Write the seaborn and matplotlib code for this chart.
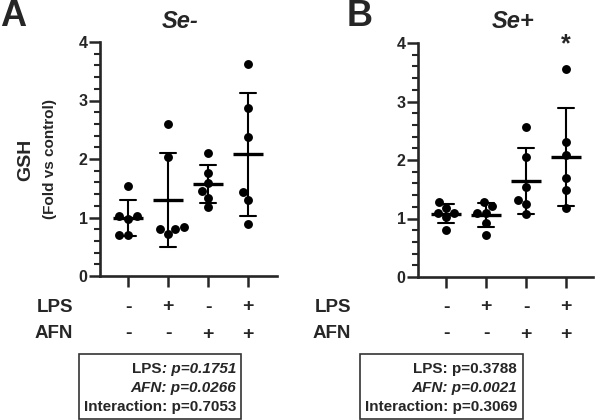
import matplotlib
matplotlib.use("Agg")
import matplotlib.pyplot as plt
import seaborn as sns
import pandas as pd
from matplotlib.ticker import MultipleLocator
from matplotlib.transforms import blended_transform_factory
from matplotlib.patches import Rectangle

sns.set_style("ticks")
plt.rcParams['font.family'] = ['Liberation Sans', 'DejaVu Sans']
plt.rcParams['font.weight'] = 'bold'

# ---- data ----
groups = ["g1", "g2", "g3", "g4"]
lps_signs = ["-", "+", "-", "+"]
afn_signs = ["-", "-", "+", "+"]

se_minus_g1 = [1.54, 1.02, 1.02, 0.98, 0.70, 0.70]
se_minus_g2 = [2.59, 2.04, 0.84, 0.81, 0.80, 0.71]
se_minus_g3 = [2.11, 1.76, 1.59, 1.45, 1.34, 1.18]
se_minus_g4 = [3.62, 2.88, 2.37, 1.43, 1.30, 0.89]

se_plus_g1 = [1.28, 1.18, 1.10, 1.10, 1.02, 0.80]
se_plus_g2 = [1.28, 1.21, 1.10, 1.10, 0.92, 0.72]
se_plus_g3 = [2.56, 2.05, 1.54, 1.32, 1.25, 1.08]
se_plus_g4 = [3.56, 2.31, 2.09, 1.69, 1.49, 1.18]

yticks = [0, 1, 2, 3, 4]
titles = ["Se-", "Se+"]
panel_letters = ["A", "B"]
stats_A = [("LPS", ": p=0.1751", "normal", "italic"),
           ("", "AFN: p=0.0266", "italic", "italic"),
           ("", "Interaction: p=0.7053", "normal", "normal")]
stats_B = [("", "LPS: p=0.3788", "normal", "normal"),
           ("", "AFN: p=0.0021", "italic", "italic"),
           ("", "Interaction: p=0.3069", "normal", "normal")]


def make_df(lists):
    rows = []
    for g, vals in zip(groups, lists):
        for v in vals:
            rows.append({"group": g, "value": v})
    return pd.DataFrame(rows)


dfA = make_df([se_minus_g1, se_minus_g2, se_minus_g3, se_minus_g4])
dfB = make_df([se_plus_g1, se_plus_g2, se_plus_g3, se_plus_g4])

W, H = 600, 420
fig = plt.figure(figsize=(6, 4.2), dpi=100)


def fx(px):
    return px / W


def fy(py):
    return 1 - py / H


axA = fig.add_axes([fx(100), fy(276), (277 - 100) / W, (276 - 42) / H])
axB = fig.add_axes([fx(418), fy(277), (593 - 418) / W, (277 - 43) / H])

for ax, df, xr in [(axA, dfA, 3.725), (axB, dfB, 3.675)]:
    sns.swarmplot(data=df, x="group", y="value", order=groups, color="black",
                  size=6.4, ax=ax, zorder=3)
    sns.pointplot(data=df, x="group", y="value", order=groups, errorbar="sd",
                  capsize=0.42, color="black", markers="_", markersize=21,
                  markeredgewidth=2.4, linestyle="none",
                  err_kws={"linewidth": 1.5}, ax=ax)
    ax.set_xlim(-0.7, xr)
    ax.set_ylim(0, 4)
    ax.set_yticks(yticks)
    ax.set_yticklabels([str(t) for t in yticks])
    for lab in ax.get_yticklabels():
        lab.set_fontweight("bold")
        lab.set_fontsize(11.5)
    ax.yaxis.set_minor_locator(MultipleLocator(0.2))
    ax.set_xticks(range(4))
    ax.set_xticklabels([""] * 4)
    ax.set_xlabel("")
    ax.set_ylabel("")
    for s in ["top", "right"]:
        ax.spines[s].set_visible(False)
    for s in ["left", "bottom"]:
        ax.spines[s].set_linewidth(1.9)
    ax.tick_params(axis="both", which="major", length=8, width=1.8, pad=1)
    ax.tick_params(axis="y", which="minor", length=4, width=1.5)
    ax.set_facecolor("none")

# titles
fig.text(fx(180), fy(22), titles[0], ha="center", va="center", fontsize=17,
         fontweight="bold", style="italic")
fig.text(fx(513), fy(22), titles[1], ha="center", va="center", fontsize=17,
         fontweight="bold", style="italic")
fig.text(fx(0), fy(17), panel_letters[0], ha="left", va="center", fontsize=26,
         fontweight="bold")
fig.text(fx(347), fy(17), panel_letters[1], ha="left", va="center", fontsize=26,
         fontweight="bold")

# y label
fig.text(fx(26), fy(160), "GSH", rotation=90, ha="center", va="center",
         fontsize=14, fontweight="bold")
fig.text(fx(50), fy(159), "(Fold vs control)", rotation=90, ha="center",
         va="center", fontsize=11, fontweight="bold")

# asterisk
axB.text(3, 3.97, "*", ha="center", va="center", fontsize=18, fontweight="bold")

# LPS / AFN rows
for ax, lx in [(axA, 73), (axB, 351)]:
    tr = blended_transform_factory(ax.transData, fig.transFigure)
    fig.text(fx(lx), fy(307), "LPS", ha="right", va="center", fontsize=13.5,
             fontweight="bold")
    fig.text(fx(lx), fy(334), "AFN", ha="right", va="center", fontsize=13.5,
             fontweight="bold")
    for i in range(4):
        ax.text(i, fy(307), lps_signs[i], transform=tr, ha="center",
                va="center", fontsize=14, fontweight="bold")
        ax.text(i, fy(334), afn_signs[i], transform=tr, ha="center",
                va="center", fontsize=14, fontweight="bold")

# stats boxes
for (x0, x1, xt, stats) in [(79, 241, 236, stats_A), (360, 523, 517, stats_B)]:
    fig.patches.append(Rectangle((fx(x0), fy(419)), (x1 - x0) / W, (419 - 354) / H,
                                 transform=fig.transFigure, fill=False,
                                 edgecolor="#333333", linewidth=1.2))
    renderer = fig.canvas.get_renderer()
    for (pre, main, pre_style, main_style), yy in zip(stats, [373, 392, 411]):
        t = fig.text(fx(xt), fy(yy), main, ha="right", va="baseline",
                     fontsize=11, fontweight="bold", style=main_style)
        if pre:
            w = t.get_window_extent(renderer).width
            fig.text(fx(xt) - w / W, fy(yy), pre, ha="right", va="baseline",
                     fontsize=11, fontweight="bold", style=pre_style)

fig.savefig("out.png", dpi=100)
